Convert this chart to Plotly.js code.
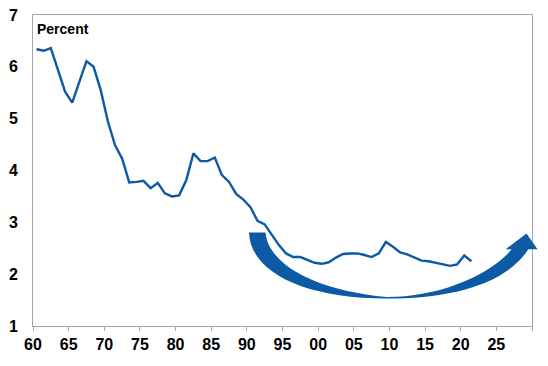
<!DOCTYPE html>
<html>
<head>
<meta charset="utf-8">
<script src="https://cdn.plot.ly/plotly-3.0.1.min.js"></script>
<style>html,body{margin:0;padding:0;background:#fff;}#chart{width:548px;height:366px;}</style>
</head>
<body>
<div id="chart"></div>
<script>
// Data
const years = [1960,1961,1962,1963,1964,1965,1966,1967,1968,1969,
               1970,1971,1972,1973,1974,1975,1976,1977,1978,1979,
               1980,1981,1982,1983,1984,1985,1986,1987,1988,1989,
               1990,1991,1992,1993,1994,1995,1996,1997,1998,1999,
               2000,2001,2002,2003,2004,2005,2006,2007,2008,2009,
               2010,2011,2012,2013,2014,2015,2016,2017,2018,2019,
               2020,2021];
const values = [6.34,6.31,6.36,5.95,5.52,5.31,5.71,6.11,6.00,5.55,
                4.95,4.49,4.23,3.77,3.78,3.80,3.66,3.76,3.56,3.50,
                3.52,3.81,4.33,4.18,4.18,4.25,3.91,3.78,3.55,3.44,
                3.29,3.03,2.96,2.75,2.56,2.40,2.33,2.33,2.27,2.22,
                2.20,2.23,2.32,2.39,2.40,2.40,2.37,2.33,2.40,2.62,
                2.53,2.42,2.38,2.32,2.26,2.25,2.22,2.18,2.16,2.19,
                2.36,2.25];
const tickYears = [1960,1965,1970,1975,1980,1985,1990,1995,2000,2005,2010,2015,2020,2025,2030];
const tickLabels = ['60','65','70','75','80','85','90','95','00','05','10','15','20','25',''];
const yTicks = [1,2,3,4,5,6,7];
const unitLabel = 'Percent';

const BLUE = '#0c5aa6';
const FRAME = '#a6a6a6';

// Plot box (pixels) used to place the decorative arrow (paper coordinates, not clipped)
const W = 548, H = 366;
const M = {l:33, r:16, t:15, b:40};
const X0 = 1960, X1 = 2030, Y0 = 1, Y1 = 7;
function px2x(px){ return (px - M.l) / (W - M.l - M.r); }
function py2y(py){ return 1 - (py - M.t) / (H - M.t - M.b); }
function P(px, py){ return px2x(px).toFixed(4) + ',' + py2y(py).toFixed(4); }

const arrowPath =
  'M' + P(249,232.5) + ' L' + P(265.5,232.5) +
  ' C' + P(268,262) + ' ' + P(310,290) + ' ' + P(387,297) +
  ' C' + P(440,297) + ' ' + P(490,275) + ' ' + P(511.7,249.3) +
  ' L' + P(505.5,249.3) + ' L' + P(526.5,233.5) + ' L' + P(537.5,249.3) + ' L' + P(528.3,249.3) +
  ' C' + P(505,285) + ' ' + P(450,298.5) + ' ' + P(387,298.5) +
  ' C' + P(300,298.5) + ' ' + P(250,270) + ' ' + P(249,232.5) + ' Z';

const trace = {
  x: years.map(y => y + 0.5),
  y: values,
  type: 'scatter',
  mode: 'lines',
  line: {color: BLUE, width: 2.4},
  hoverinfo: 'skip'
};

const tickFont = {family: '"Liberation Sans", Arial, sans-serif', size: 16, color: '#000', weight: 700};

const layout = {
  width: W, height: H,
  margin: M,
  paper_bgcolor: '#fff',
  plot_bgcolor: '#fff',
  showlegend: false,
  xaxis: {
    range: [X0, X1],
    tickmode: 'array', tickvals: tickYears, ticktext: tickLabels,
    ticks: 'outside', ticklen: 4, tickcolor: FRAME, tickwidth: 1,
    showline: true, linecolor: FRAME, linewidth: 1, mirror: true,
    showgrid: false, zeroline: false,
    tickfont: tickFont
  },
  yaxis: {
    range: [Y0, Y1],
    tickmode: 'array', tickvals: yTicks, ticktext: yTicks.map(String),
    ticks: '', ticklabelstandoff: 11,
    showline: true, linecolor: FRAME, linewidth: 1, mirror: true,
    showgrid: false, zeroline: false,
    tickfont: tickFont
  },
  shapes: [{
    type: 'path', xref: 'paper', yref: 'paper', path: arrowPath,
    fillcolor: BLUE, line: {width: 0}, layer: 'above'
  }],
  annotations: [{
    text: unitLabel, xref: 'paper', yref: 'paper', x: 0, y: 0.955,
    xanchor: 'left', yanchor: 'middle', xshift: 2, showarrow: false,
    font: {family: '"Liberation Sans", Arial, sans-serif', size: 14, color: '#000', weight: 700}
  }]
};

Plotly.newPlot('chart', [trace], layout, {staticPlot: true, displayModeBar: false});
</script>
</body>
</html>
